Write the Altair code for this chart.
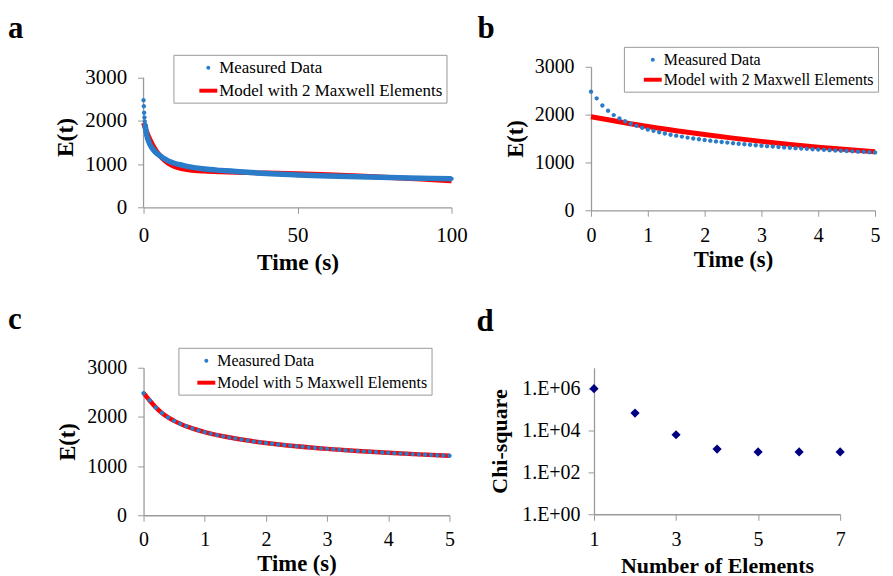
import altair as alt
import pandas as pd

# ---------------- data ----------------
MEAS = "Measured Data"
MODEL2 = "Model with 2 Maxwell Elements"
MODEL5 = "Model with 5 Maxwell Elements"

# measured relaxation modulus, first 5 s
short_time = [0.0, 0.1, 0.2, 0.3, 0.4, 0.5, 0.6, 0.7, 0.8, 0.9,
              1.0, 1.1, 1.2, 1.3, 1.4, 1.5, 1.6, 1.7, 1.8, 1.9,
              2.0, 2.1, 2.2, 2.3, 2.4, 2.5, 2.6, 2.7, 2.8, 2.9,
              3.0, 3.1, 3.2, 3.3, 3.4, 3.5, 3.6, 3.7, 3.8, 3.9,
              4.0, 4.1, 4.2, 4.3, 4.4, 4.5, 4.6, 4.7, 4.8, 4.9, 5.0]
short_E = [2480, 2340, 2190, 2080, 1990, 1920, 1860, 1810, 1765, 1725,
           1690, 1660, 1630, 1605, 1580, 1560, 1540, 1520, 1500, 1485,
           1470, 1455, 1440, 1428, 1415, 1403, 1392, 1381, 1370, 1360,
           1350, 1341, 1332, 1323, 1315, 1307, 1299, 1291, 1284, 1277,
           1270, 1263, 1257, 1250, 1244, 1238, 1232, 1226, 1221, 1215, 1210]

# measured, beyond 5 s
long_time = [6, 7, 8, 10, 12, 15, 20, 25, 30, 35, 40, 50, 60, 70, 80, 90, 100]
long_E = [1160, 1115, 1075, 1020, 985, 935, 885, 855, 830, 805, 780, 750, 725, 705, 690, 675, 660]

# model with 2 Maxwell elements
model2_time = [0, 0.5, 1, 1.5, 2, 2.5, 3, 3.5, 4, 4.5, 5, 6, 7, 8, 10, 12, 15, 20,
               25, 30, 40, 50, 60, 70, 80, 90, 100]
model2_E = [1955, 1850, 1750, 1662, 1583, 1508, 1440, 1378, 1320, 1270, 1225, 1140,
            1075, 1020, 945, 900, 865, 838, 822, 810, 792, 775, 752, 724, 692, 655, 615]

# model with 5 Maxwell elements
model5_time = [0, 0.1, 0.2, 0.3, 0.5, 0.75, 1, 1.5, 2, 2.5, 3, 3.5, 4, 4.5, 5]
model5_E = [2490, 2335, 2195, 2080, 1920, 1785, 1690, 1560, 1470, 1403, 1350, 1307,
            1270, 1238, 1210]

# chi-square vs number of elements
n_elements = [1, 2, 3, 4, 5, 6, 7]
chi_square = [1.0e6, 6.8e4, 6.3e3, 1.3e3, 950, 950, 950]

e_ticks = [0, 1000, 2000, 3000]
chi_tick_values = [1, 100, 10000, 1000000]
chi_tick_labels = ["1.E+00", "1.E+02", "1.E+04", "1.E+06"]

# ---------------- styling ----------------
BLUE = "#2a7cc9"
RED = "#ff0000"
NAVY = "#000080"
GREY = "#9a9a9a"
FONT = "Liberation Serif"
DOT = "M0.22,0A0.22,0.22,0,1,1,-0.22,0A0.22,0.22,0,1,1,0.22,0Z"
BAR = "M-1,-0.22H1V0.22H-1Z"

meas_short = pd.DataFrame({"t": short_time, "E": short_E})
meas_all = pd.DataFrame({"t": short_time + long_time, "E": short_E + long_E})
m2 = pd.DataFrame({"t": model2_time, "E": model2_E})
m5 = pd.DataFrame({"t": model5_time, "E": model5_E})
for df in (meas_short, meas_all):
    df["series"] = MEAS
chi_df = pd.DataFrame({"n": n_elements, "chi": chi_square})
# y-axis line of panel a: from the first to the last E tick at t = 0
axis_a = pd.DataFrame({"t": [short_time[0]], "E": [e_ticks[0]], "E2": [e_ticks[-1]]})


def letter(txt, dx, offset):
    return alt.TitleParams(txt, anchor="start", frame="group", dx=dx, offset=offset,
                           baseline="alphabetic", font=FONT, fontSize=31,
                           fontWeight="bold", color="black")


def decay_panel(txt, meas, model, model_label, xmax, xticks, w, h, ymax, lx, ly, rowpad,
                lpad_left, tick_fs, title_fs, leg_fs, dx, offset, line_w,
                xlp, xtp, thick=False):
    x = alt.X("t:Q", scale=alt.Scale(domain=[0, xmax], nice=False),
              axis=alt.Axis(values=xticks, labelFontSize=tick_fs, titleFontSize=title_fs,
                            labelPadding=xlp, titlePadding=xtp, labelFlush=False),
              title="Time (s)")
    y = alt.Y("E:Q", scale=alt.Scale(domain=[0, ymax], nice=False),
              axis=alt.Axis(values=e_ticks, format="d", labelFontSize=tick_fs,
                            titleFontSize=title_fs, labelPadding=11, titlePadding=7,
                            domain=not thick),
              title="E(t)")
    leg = alt.Legend(title=" ", titleOrient="left", titlePadding=lpad_left,
                     titleFont=FONT, titleFontSize=leg_fs,
                     orient="none", legendX=lx, legendY=ly,
                     strokeColor=GREY, fillColor="white", padding=4, rowPadding=rowpad,
                     labelFont=FONT, labelFontSize=leg_fs, labelColor="black",
                     labelLimit=400, symbolSize=324, symbolStrokeWidth=0, labelOffset=2)
    dom = [MEAS, model_label]
    layers = []
    if thick:
        layers.append(alt.Chart(axis_a).mark_rule(color=GREY, strokeWidth=1.3).encode(
            x=x, y=y, y2="E2:Q"))
    layers.append(alt.Chart(model).mark_line(color=RED, strokeWidth=line_w,
                                             interpolate="monotone").encode(x=x, y=y))
    if thick:
        layers.append(alt.Chart(meas).transform_filter("datum.t >= 0.5")
                      .mark_line(color=BLUE, strokeWidth=5.5, interpolate="monotone")
                      .encode(x=x, y=y))
    layers.append(alt.Chart(meas).mark_point(filled=True, size=400, opacity=1).encode(
        x=x, y=y,
        color=alt.Color("series:N", scale=alt.Scale(domain=dom, range=[BLUE, RED]), legend=leg),
        shape=alt.Shape("series:N", scale=alt.Scale(domain=dom, range=[DOT, BAR]), legend=leg),
    ))
    return alt.layer(*layers).properties(width=w, height=h, title=letter(txt, dx, offset))


m2_short = m2[m2["t"] <= 5]

pa = decay_panel("a", meas_all, m2, MODEL2, 100, [0, 50, 100], 309, 141, 3254,
                 30, -12, 6, 22,
                 21, 23.5, 17, -136, -15, 5, 11, 5, thick=True)
pb = decay_panel("b", meas_short, m2_short, MODEL2, 5, [0, 1, 2, 3, 4, 5], 285, 144, 3000,
                 33, -20, 3, 16,
                 20, 22.7, 16, -114, -23, 5, 9, 3)
pc = decay_panel("c", meas_short, m5, MODEL5, 5, [0, 1, 2, 3, 4, 5], 307, 148, 3000,
                 35, -20, 5, 15,
                 20, 22.7, 16, -136, -13, 4.5, 8, 3)

label_expr = " : ".join(f"datum.value < {v * 3} ? '{lab}'"
                        for v, lab in zip(chi_tick_values[:-1], chi_tick_labels[:-1]))
label_expr += f" : '{chi_tick_labels[-1]}'"

pd_ = alt.Chart(chi_df).mark_point(shape="diamond", filled=True, color=NAVY, size=85,
                                    opacity=1).encode(
    x=alt.X("n:Q", scale=alt.Scale(domain=[1, 7], nice=False),
            axis=alt.Axis(values=[1, 3, 5, 7], labelFontSize=20, titleFontSize=22,
                          labelPadding=9, titlePadding=6, labelFlush=False),
            title="Number of Elements"),
    y=alt.Y("chi:Q", scale=alt.Scale(type="log", domain=[1, 1e7], nice=False),
            axis=alt.Axis(values=chi_tick_values, labelExpr=label_expr, labelFontSize=20,
                          titleFontSize=22, labelPadding=8, titlePadding=10),
            title="Chi-square"),
).properties(width=247, height=147, title=letter("d", -118, 6))

row1 = alt.hconcat(pa, pb, spacing=10).resolve_scale(color="independent", shape="independent")
row2 = alt.hconcat(pc, pd_, spacing=18).resolve_scale(color="independent", shape="independent")

chart = alt.vconcat(row1, row2, spacing=30).resolve_scale(
    color="independent", shape="independent"
).properties(
    padding={"left": 0, "top": 4, "right": 0, "bottom": 0}
).configure_view(
    stroke=None
).configure_axis(
    grid=False, domainColor=GREY, tickColor=GREY, tickSize=6, domainWidth=1.3,
    labelFont=FONT, titleFont=FONT, titleFontWeight="bold",
    labelColor="black", titleColor="black",
)

chart.save("out.html", embed_options={"renderer": "svg", "actions": False})
